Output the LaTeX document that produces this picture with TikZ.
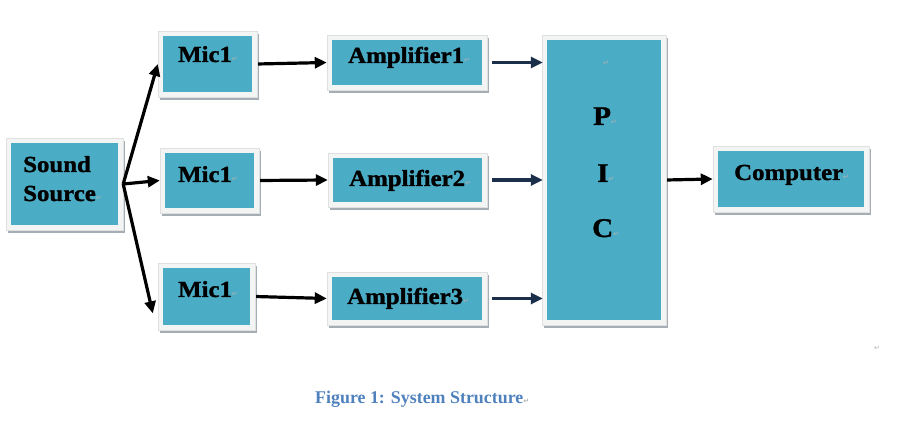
\documentclass[tikz,border=0pt]{standalone}
\usepackage{fontspec}
\setmainfont{Liberation Serif}
\newfontfamily\heavy{Liberation Serif Bold}[FakeBold=1.2]
\newfontfamily\dejavu{DejaVu Sans}
\usetikzlibrary{arrows.meta,shadows,calc}
\definecolor{boxfill}{HTML}{4BACC6}
\definecolor{framecol}{HTML}{F3F4F4}
\definecolor{shadowcol}{HTML}{A4AEB4}
\definecolor{navyarrow}{HTML}{1C2F4A}
\definecolor{capblue}{HTML}{4F81BD}
\newcommand{\pmk}{{\dejavu\fontsize{7}{7}\selectfont\color{black!30}↵}}
\newcommand{\lbl}[1]{\scalebox{1.08}[1]{\heavy\fontsize{23}{23}\selectfont #1}}
\newcommand{\piclbl}[1]{\scalebox{1.08}[1]{\heavy\fontsize{27}{27}\selectfont #1}}
\tikzset{
  blk/.style={rectangle, inner sep=0pt, fill=framecol, draw=black!12, line width=0.4pt,
    drop shadow={shadow xshift=2pt, shadow yshift=-3pt, fill=shadowcol, opacity=1},
    path picture={\fill[boxfill] ([shift={(5pt,5pt)}]path picture bounding box.south west)
      rectangle ([shift={(-5pt,-5pt)}]path picture bounding box.north east);}},
  txt/.style={anchor=base west, inner sep=0pt, text=black},
  arr/.style={line width=3.2pt, draw=black, -{Triangle[length=12pt,width=11pt]}},
  narr/.style={arr, draw=navyarrow, shorten <=5pt, shorten >=-1pt},
  pm/.style={inner sep=0pt, anchor=base west},
}
\begin{document}
\begin{tikzpicture}[x=1pt,y=-1pt]
\useasboundingbox (0,0) rectangle (911,422);
% boxes
\node[blk, minimum width=117pt, minimum height=92pt] (src) at (64.5,184) {};
\node[blk, minimum width=99pt, minimum height=66pt] (mic1) at (207.5,64) {};
\node[blk, minimum width=99pt, minimum height=65pt] (mic2) at (209.5,180.5) {};
\node[blk, minimum width=97pt, minimum height=67pt] (mic3) at (206.5,296.5) {};
\node[blk, minimum width=160pt, minimum height=55pt] (amp1) at (407,62.5) {};
\node[blk, minimum width=159pt, minimum height=54pt] (amp2) at (407.5,180) {};
\node[blk, minimum width=160pt, minimum height=53pt] (amp3) at (407,298.5) {};
\node[blk, minimum width=124pt, minimum height=290pt] (pic) at (604,180) {};
\node[blk, minimum width=156pt, minimum height=66pt] (comp) at (791,179) {};
% labels
\node[txt] (tsound) at (23,172) {\lbl{Sound}};
\node[txt] (tsource) at (23,201) {\lbl{Source}\pmk};
\node[txt] (tmic1) at (178,62) {\lbl{Mic1}\pmk};
\node[txt] (tmic2) at (178,182) {\lbl{Mic1}\pmk};
\node[txt] (tmic3) at (178,297) {\lbl{Mic1}\pmk};
\node[txt] (tamp1) at (348,63) {\lbl{Amplifier1}\pmk};
\node[txt] (tamp2) at (349,186) {\lbl{Amplifier2}\pmk};
\node[txt] (tamp3) at (347,304) {\lbl{Amplifier3}\pmk};
\node[txt] (tcomp) at (734,180) {\lbl{Computer}\pmk};
\node[pm] (ptop) at (603,66) {\pmk};
\node[txt] (tp) at (593,125) {\piclbl{P}\pmk};
\node[txt] (ti) at (597,182) {\piclbl{I}\pmk};
\node[txt] (tc) at (592,237) {\piclbl{C}\pmk};
\node[pm] (pend) at (874,350) {\pmk};
\node[anchor=base west, inner sep=0pt, text=capblue, font=\bfseries\fontsize{17.9}{18}\selectfont] (cap) at (315,403) {Figure 1: System Structure\pmk};
% connectors
\draw[arr] (src.east) -- (mic1.west);
\draw[arr] (src.east) -- (mic2.west);
\draw[arr] (src.east) -- ($(mic3.west)!0.5!(mic3.south west)+(-5,0)$);
\draw[arr, shorten <=1pt] (mic1.east) -- (amp1.west);
\draw[arr, shorten <=1pt] (mic2.east) -- (amp2.west);
\draw[arr, shorten <=1pt] (mic3.east) -- (amp3.west);
\draw[narr] (amp1.east) -- (amp1.east -| pic.west);
\draw[narr] (amp2.east) -- (amp2.east -| pic.west);
\draw[narr] (amp3.east) -- (amp3.east -| pic.west);
\draw[arr, shorten <=1pt] (pic.east) -- (comp.west);
\end{tikzpicture}
\end{document}
